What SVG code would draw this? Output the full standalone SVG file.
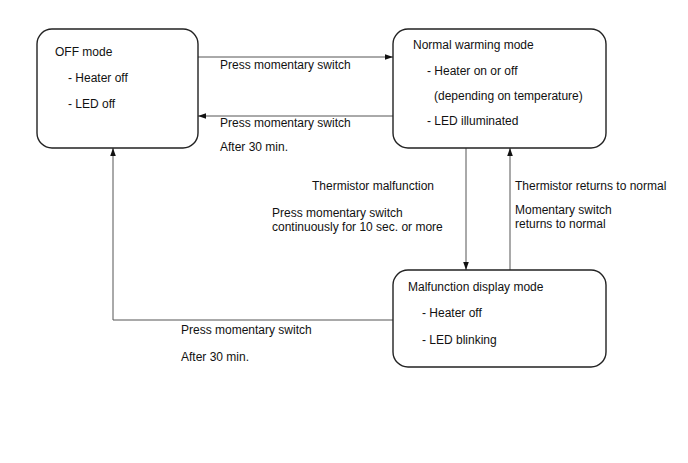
<svg xmlns="http://www.w3.org/2000/svg" width="688" height="463" viewBox="0 0 688 463">
<style>
.box{fill:#fff;stroke:#222;stroke-width:1.4}
.ln{fill:none;stroke:#555;stroke-width:1}
text{font-family:"Liberation Sans",Arial,sans-serif;font-size:12px;fill:#111}
</style>
<defs>
<marker id="ah" viewBox="0 0 10 10" refX="10" refY="5" markerWidth="8" markerHeight="8" markerUnits="userSpaceOnUse" orient="auto">
<path d="M0,1.5 L10,5 L0,8.5 Z" fill="#111"/>
</marker>
</defs>
<rect width="688" height="463" fill="#fff"/>
<g id="connectors">
<line class="ln" x1="198" y1="57" x2="393" y2="57" marker-end="url(#ah)"/>
<line class="ln" x1="393" y1="116" x2="198" y2="116" marker-end="url(#ah)"/>
<line class="ln" x1="466" y1="148" x2="466" y2="270" marker-end="url(#ah)"/>
<line class="ln" x1="510" y1="270" x2="510" y2="148" marker-end="url(#ah)"/>
<polyline class="ln" points="393,320 113,320 113,148" marker-end="url(#ah)"/>
<text x="220" y="69">Press momentary switch</text>
<text x="220" y="127">Press momentary switch</text>
<text x="220" y="151">After 30 min.</text>
<text x="312" y="190">Thermistor malfunction</text>
<text x="272" y="217">Press momentary switch</text>
<text x="272" y="231">continuously for 10 sec. or more</text>
<text x="515" y="190">Thermistor returns to normal</text>
<text x="515" y="214">Momentary switch</text>
<text x="515" y="228">returns to normal</text>
<text x="181" y="334">Press momentary switch</text>
<text x="181" y="361">After 30 min.</text>
</g>
<g id="off-mode">
<rect class="box" x="37" y="29" width="161" height="119" rx="15"/>
<text x="55" y="56">OFF mode</text>
<text x="68" y="82">- Heater off</text>
<text x="68" y="108">- LED off</text>
</g>
<g id="normal-mode">
<rect class="box" x="393" y="29" width="213" height="119" rx="15"/>
<text x="413" y="49">Normal warming mode</text>
<text x="427" y="75">- Heater on or off</text>
<text x="434" y="100">(depending on temperature)</text>
<text x="427" y="125">- LED illuminated</text>
</g>
<g id="malfunction-mode">
<rect class="box" x="393" y="270" width="213" height="97" rx="15"/>
<text x="408" y="291">Malfunction display mode</text>
<text x="422" y="317">- Heater off</text>
<text x="422" y="344">- LED blinking</text>
</g>
</svg>
